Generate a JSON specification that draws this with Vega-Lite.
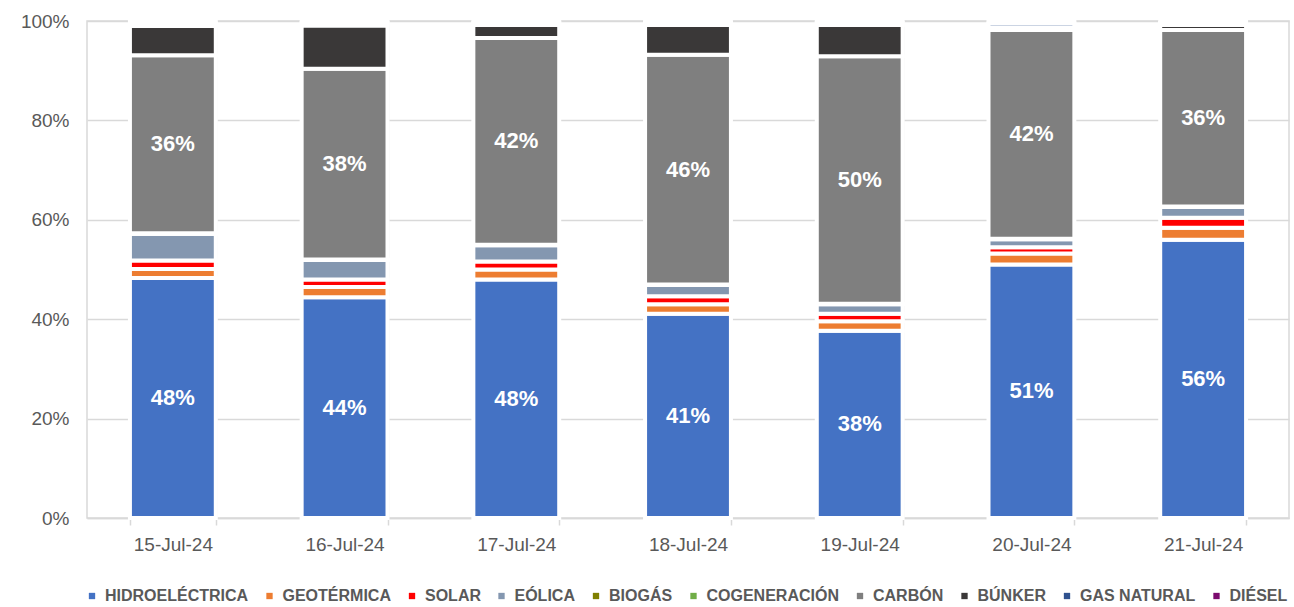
{
  "$schema": "https://vega.github.io/schema/vega-lite/v6.json",
  "autosize": {"type": "none"},
  "width": 1202,
  "height": 497,
  "padding": {"left": 87, "top": 21, "right": 5, "bottom": 89},
  "background": "white",
  "config": {
    "view": {"stroke": "#d9d9d9", "strokeWidth": 1.5},
    "font": "Liberation Sans"
  },
  "data": {
    "values": [
      {"fecha": "15-Jul-24", "fuente": "HIDROELÉCTRICA", "k": 1, "share": 0.483},
      {"fecha": "15-Jul-24", "fuente": "GEOTÉRMICA", "k": 2, "share": 0.018},
      {"fecha": "15-Jul-24", "fuente": "SOLAR", "k": 3, "share": 0.017},
      {"fecha": "15-Jul-24", "fuente": "EÓLICA", "k": 4, "share": 0.054},
      {"fecha": "15-Jul-24", "fuente": "BIOGÁS", "k": 5, "share": 0.0005},
      {"fecha": "15-Jul-24", "fuente": "COGENERACIÓN", "k": 6, "share": 0.0005},
      {"fecha": "15-Jul-24", "fuente": "CARBÓN", "k": 7, "share": 0.358},
      {"fecha": "15-Jul-24", "fuente": "BÚNKER", "k": 8, "share": 0.059},
      {"fecha": "15-Jul-24", "fuente": "GAS NATURAL", "k": 9, "share": 0.005},
      {"fecha": "15-Jul-24", "fuente": "DIÉSEL", "k": 10, "share": 0.004},

      {"fecha": "16-Jul-24", "fuente": "HIDROELÉCTRICA", "k": 1, "share": 0.444},
      {"fecha": "16-Jul-24", "fuente": "GEOTÉRMICA", "k": 2, "share": 0.021},
      {"fecha": "16-Jul-24", "fuente": "SOLAR", "k": 3, "share": 0.015},
      {"fecha": "16-Jul-24", "fuente": "EÓLICA", "k": 4, "share": 0.039},
      {"fecha": "16-Jul-24", "fuente": "BIOGÁS", "k": 5, "share": 0.0005},
      {"fecha": "16-Jul-24", "fuente": "COGENERACIÓN", "k": 6, "share": 0.0005},
      {"fecha": "16-Jul-24", "fuente": "CARBÓN", "k": 7, "share": 0.384},
      {"fecha": "16-Jul-24", "fuente": "BÚNKER", "k": 8, "share": 0.087},
      {"fecha": "16-Jul-24", "fuente": "GAS NATURAL", "k": 9, "share": 0.005},
      {"fecha": "16-Jul-24", "fuente": "DIÉSEL", "k": 10, "share": 0.004},

      {"fecha": "17-Jul-24", "fuente": "HIDROELÉCTRICA", "k": 1, "share": 0.480},
      {"fecha": "17-Jul-24", "fuente": "GEOTÉRMICA", "k": 2, "share": 0.020},
      {"fecha": "17-Jul-24", "fuente": "SOLAR", "k": 3, "share": 0.016},
      {"fecha": "17-Jul-24", "fuente": "EÓLICA", "k": 4, "share": 0.033},
      {"fecha": "17-Jul-24", "fuente": "BIOGÁS", "k": 5, "share": 0.0005},
      {"fecha": "17-Jul-24", "fuente": "COGENERACIÓN", "k": 6, "share": 0.0005},
      {"fecha": "17-Jul-24", "fuente": "CARBÓN", "k": 7, "share": 0.416},
      {"fecha": "17-Jul-24", "fuente": "BÚNKER", "k": 8, "share": 0.026},
      {"fecha": "17-Jul-24", "fuente": "GAS NATURAL", "k": 9, "share": 0.004},
      {"fecha": "17-Jul-24", "fuente": "DIÉSEL", "k": 10, "share": 0.004},

      {"fecha": "18-Jul-24", "fuente": "HIDROELÉCTRICA", "k": 1, "share": 0.411},
      {"fecha": "18-Jul-24", "fuente": "GEOTÉRMICA", "k": 2, "share": 0.019},
      {"fecha": "18-Jul-24", "fuente": "SOLAR", "k": 3, "share": 0.016},
      {"fecha": "18-Jul-24", "fuente": "EÓLICA", "k": 4, "share": 0.023},
      {"fecha": "18-Jul-24", "fuente": "BIOGÁS", "k": 5, "share": 0.0005},
      {"fecha": "18-Jul-24", "fuente": "COGENERACIÓN", "k": 6, "share": 0.0005},
      {"fecha": "18-Jul-24", "fuente": "CARBÓN", "k": 7, "share": 0.462},
      {"fecha": "18-Jul-24", "fuente": "BÚNKER", "k": 8, "share": 0.060},
      {"fecha": "18-Jul-24", "fuente": "GAS NATURAL", "k": 9, "share": 0.004},
      {"fecha": "18-Jul-24", "fuente": "DIÉSEL", "k": 10, "share": 0.004},

      {"fecha": "19-Jul-24", "fuente": "HIDROELÉCTRICA", "k": 1, "share": 0.377},
      {"fecha": "19-Jul-24", "fuente": "GEOTÉRMICA", "k": 2, "share": 0.019},
      {"fecha": "19-Jul-24", "fuente": "SOLAR", "k": 3, "share": 0.015},
      {"fecha": "19-Jul-24", "fuente": "EÓLICA", "k": 4, "share": 0.019},
      {"fecha": "19-Jul-24", "fuente": "BIOGÁS", "k": 5, "share": 0.0005},
      {"fecha": "19-Jul-24", "fuente": "COGENERACIÓN", "k": 6, "share": 0.0005},
      {"fecha": "19-Jul-24", "fuente": "CARBÓN", "k": 7, "share": 0.498},
      {"fecha": "19-Jul-24", "fuente": "BÚNKER", "k": 8, "share": 0.063},
      {"fecha": "19-Jul-24", "fuente": "GAS NATURAL", "k": 9, "share": 0.004},
      {"fecha": "19-Jul-24", "fuente": "DIÉSEL", "k": 10, "share": 0.004},

      {"fecha": "20-Jul-24", "fuente": "HIDROELÉCTRICA", "k": 1, "share": 0.510},
      {"fecha": "20-Jul-24", "fuente": "GEOTÉRMICA", "k": 2, "share": 0.022},
      {"fecha": "20-Jul-24", "fuente": "SOLAR", "k": 3, "share": 0.013},
      {"fecha": "20-Jul-24", "fuente": "EÓLICA", "k": 4, "share": 0.016},
      {"fecha": "20-Jul-24", "fuente": "BIOGÁS", "k": 5, "share": 0.0005},
      {"fecha": "20-Jul-24", "fuente": "COGENERACIÓN", "k": 6, "share": 0.0005},
      {"fecha": "20-Jul-24", "fuente": "CARBÓN", "k": 7, "share": 0.420},
      {"fecha": "20-Jul-24", "fuente": "BÚNKER", "k": 8, "share": 0.004},
      {"fecha": "20-Jul-24", "fuente": "GAS NATURAL", "k": 9, "share": 0.009},
      {"fecha": "20-Jul-24", "fuente": "DIÉSEL", "k": 10, "share": 0.005},

      {"fecha": "21-Jul-24", "fuente": "HIDROELÉCTRICA", "k": 1, "share": 0.560},
      {"fecha": "21-Jul-24", "fuente": "GEOTÉRMICA", "k": 2, "share": 0.024},
      {"fecha": "21-Jul-24", "fuente": "SOLAR", "k": 3, "share": 0.020},
      {"fecha": "21-Jul-24", "fuente": "EÓLICA", "k": 4, "share": 0.022},
      {"fecha": "21-Jul-24", "fuente": "BIOGÁS", "k": 5, "share": 0.0005},
      {"fecha": "21-Jul-24", "fuente": "COGENERACIÓN", "k": 6, "share": 0.0005},
      {"fecha": "21-Jul-24", "fuente": "CARBÓN", "k": 7, "share": 0.355},
      {"fecha": "21-Jul-24", "fuente": "BÚNKER", "k": 8, "share": 0.010},
      {"fecha": "21-Jul-24", "fuente": "GAS NATURAL", "k": 9, "share": 0.004},
      {"fecha": "21-Jul-24", "fuente": "DIÉSEL", "k": 10, "share": 0.004}
    ]
  },
  "encoding": {
    "x": {
      "field": "fecha",
      "type": "nominal",
      "sort": null,
      "title": null,
      "scale": {"paddingInner": 0.5, "paddingOuter": 0.25},
      "axis": {
        "labelAngle": 0,
        "labelFont": "Liberation Sans",
        "labelFontSize": 19,
        "labelColor": "#595959",
        "labelPadding": 10,
        "tickBand": "extent",
        "ticks": true,
        "tickSize": 7,
        "tickColor": "#d9d9d9",
        "tickWidth": 1.5,
        "grid": true,
        "gridColor": "#d9d9d9",
        "gridWidth": 1.5,
        "domain": true,
        "domainColor": "#d9d9d9",
        "domainWidth": 1.5
      }
    },
    "y": {
      "field": "share",
      "type": "quantitative",
      "stack": "zero",
      "title": null,
      "scale": {"domain": [0, 1], "nice": false},
      "axis": {
        "values": [0, 0.2, 0.4, 0.6, 0.8, 1],
        "format": ".0%",
        "labelFont": "Liberation Sans",
        "labelFontSize": 19,
        "labelColor": "#595959",
        "labelPadding": 18,
        "ticks": false,
        "domain": false,
        "grid": true,
        "gridColor": "#d9d9d9",
        "gridWidth": 1.5
      }
    },
    "order": {"field": "k", "type": "quantitative"}
  },
  "layer": [
    {
      "mark": {"type": "bar", "stroke": "white", "strokeWidth": 4},
      "encoding": {
        "color": {
          "field": "fuente",
          "type": "nominal",
          "scale": {
            "domain": ["HIDROELÉCTRICA", "GEOTÉRMICA", "SOLAR", "EÓLICA", "BIOGÁS", "COGENERACIÓN", "CARBÓN", "BÚNKER", "GAS NATURAL", "DIÉSEL"],
            "range": ["#4472C4", "#ED7D31", "#FF0000", "#8497B0", "#7F7F00", "#70AD47", "#7F7F7F", "#3A3838", "#2F528F", "#7B0A6E"]
          },
          "legend": {
            "title": null,
            "orient": "none",
            "legendX": -3,
            "legendY": 567,
            "direction": "horizontal",
            "columns": 10,
            "columnPadding": 12.5,
            "symbolType": "square",
            "symbolSize": 40,
            "symbolStrokeWidth": 0,
            "labelOffset": 5,
            "labelFont": "Liberation Sans",
            "labelFontSize": 16,
            "labelFontWeight": "bold",
            "labelColor": "#595959",
            "labelLimit": 400
          }
        }
      }
    },
    {
      "mark": {"type": "text", "color": "white", "font": "Liberation Sans", "fontSize": 22, "fontWeight": "bold", "baseline": "middle"},
      "encoding": {
        "y": {"field": "share", "type": "quantitative", "stack": "zero", "bandPosition": 0.5},
        "text": {
          "condition": {"test": "datum.fuente === 'HIDROELÉCTRICA' || datum.fuente === 'CARBÓN'", "field": "share", "type": "quantitative", "format": ".0%"},
          "value": ""
        }
      }
    }
  ]
}
